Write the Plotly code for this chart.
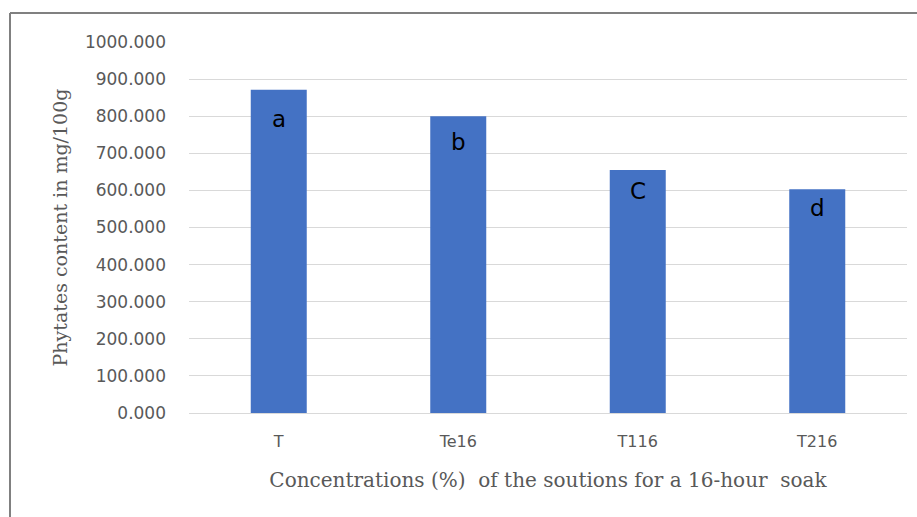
import plotly.graph_objects as go

categories = ["T", "Te16", "T116", "T216"]
values = [871.0, 800.0, 655.0, 603.0]
letters = ["a", "b", "C", "d"]
tick_vals = [0, 100, 200, 300, 400, 500, 600, 700, 800, 900, 1000]
tick_text = ["%.3f" % v for v in tick_vals]

# style: vertical offset (px) of each letter below its bar top
label_shift = [-14, -11, -6, -4]

fig = go.Figure()
fig.add_trace(go.Bar(
    x=categories, y=values,
    marker=dict(color="#4472C4", line=dict(width=0)),
    width=0.312,
    hoverinfo="skip",
))

for c, v, t, s in zip(categories, values, letters, label_shift):
    fig.add_annotation(x=c, y=v, text=t, showarrow=False, yanchor="top", yshift=s,
                       font=dict(family="DejaVu Sans", size=23, color="#000000"))

fig.update_layout(
    width=917, height=517,
    margin=dict(l=189, r=10, t=42, b=104),
    paper_bgcolor="white", plot_bgcolor="white",
    showlegend=False,
    xaxis=dict(
        showgrid=False, showline=True, linecolor="#D9D9D9", linewidth=1,
        tickfont=dict(family="DejaVu Sans", size=16, color="#595959"),
        ticks="", ticklabelstandoff=14,
        title=dict(text="Concentrations (%)  of the soutions for a 16-hour  soak",
                   font=dict(family="DejaVu Serif", size=20, color="#595959"),
                   standoff=22),
    ),
    yaxis=dict(
        range=[0, 1000], tickvals=tick_vals, ticktext=tick_text,
        showgrid=True, gridcolor="#D9D9D9", gridwidth=1,
        zeroline=False, showline=False,
        tickfont=dict(family="DejaVu Sans", size=17, color="#595959"),
        ticks="", ticklabelstandoff=22,
        title=dict(text="Phytates content in mg/100g",
                   font=dict(family="DejaVu Serif", size=19, color="#595959"),
                   standoff=12),
    ),
)

# chart frame (top and left edges visible in the picture)
fig.add_shape(type="line", xref="paper", yref="paper",
              x0=(10 - 189) / 718, x1=(917 - 189) / 718,
              y0=(413 - 13) / 371, y1=(413 - 13) / 371,
              line=dict(color="#808080", width=2))
fig.add_shape(type="line", xref="paper", yref="paper",
              x0=(10 - 189) / 718, x1=(10 - 189) / 718,
              y0=(413 - 517) / 371, y1=(413 - 13) / 371,
              line=dict(color="#808080", width=2))

fig.write_html("out.html", config={"displayModeBar": False},
               post_script="document.body.style.margin='0';")
